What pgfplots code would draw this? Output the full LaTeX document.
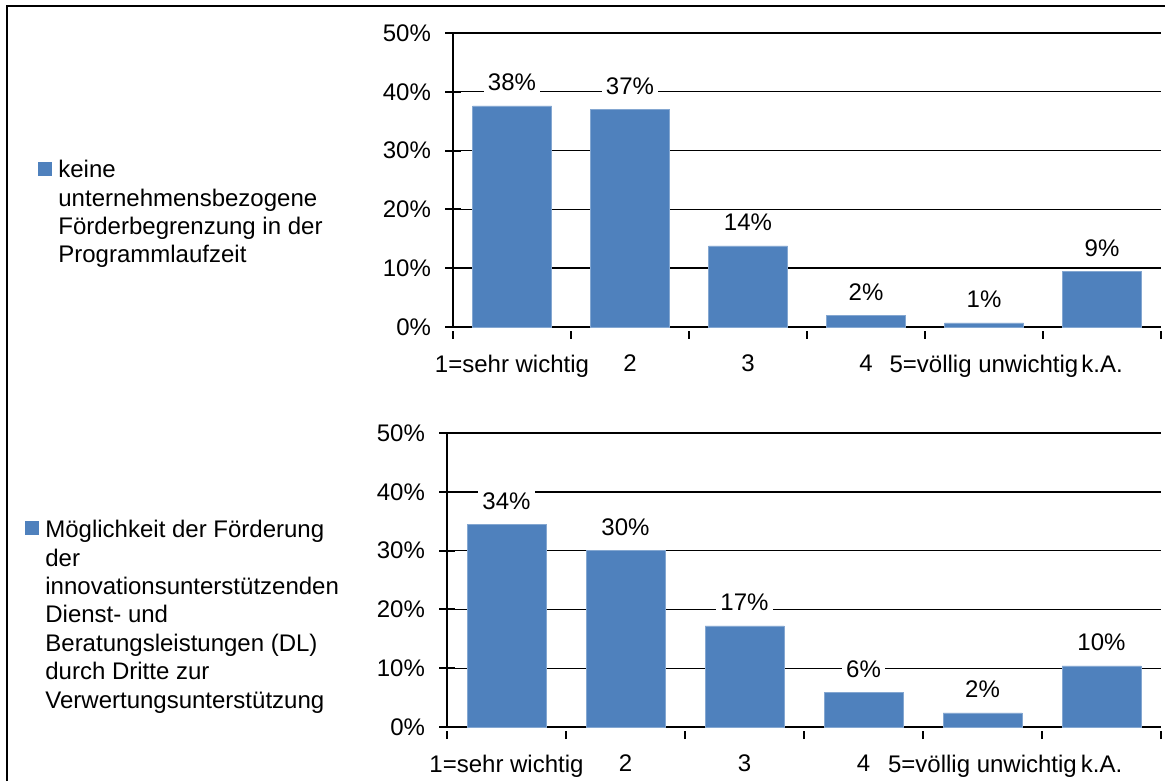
\documentclass[border=0pt]{standalone}
\usepackage{fontspec}
\setmainfont{Liberation Sans}
\usepackage{pgfplots}
\pgfplotsset{compat=1.18}

\definecolor{barblue}{RGB}{79,129,189}
\newcommand{\lfont}{\fontsize{12}{14.2}\selectfont}

\pgfplotsset{
  bewertung/.style={
    scale only axis,
    anchor=south west,
    height=147pt,
    xmin=-0.5, xmax=5.5,
    ymin=0, ymax=50,
    enlargelimits=false,
    clip=false,
    axis x line=bottom,
    axis y line=left,
    axis line style={-, line width=1pt, black},
    ymajorgrids,
    grid style={black, line width=0.7pt},
    ytick={0,10,20,30,40,50},
    yticklabels={0\%,10\%,20\%,30\%,40\%,50\%},
    xtick={0,1,2,3,4,5},
    xticklabels={1=sehr wichtig,2,3,4,5=völlig unwichtig,k.A.},
    minor xtick={-0.5,0.5,1.5,2.5,3.5,4.5,5.5},
    tick align=center,
    major tick length=8pt,
    minor tick length=4pt,
    major x tick style={draw=none},
    major y tick style={black, line width=1pt},
    minor x tick style={black, line width=1pt, yshift=-2pt},
    tick label style={font=\lfont},
    yticklabel style={xshift=-3.5pt},
    xticklabel style={yshift=-2.5pt},
    /pgf/number format/assume math mode=true,
    ybar,
    bar width=39.5pt,
    nodes near coords={\pgfmathprintnumber[fixed,precision=0,assume math mode=true]{\pgfplotspointmeta}\%},
    every node near coord/.append style={font=\lfont, anchor=base, yshift=7.5pt,
      fill=white, inner sep=2pt, text=black},
  }
}

\begin{document}
\begin{tikzpicture}[font=\lfont]
\useasboundingbox (0,0) rectangle (582.5pt,390.5pt);
% Rahmen
\draw[line width=1pt] (3.5pt,0) -- (3.5pt,387.5pt) -- (582.5pt,387.5pt);

% oben
\begin{axis}[bewertung, at={(226.5pt,227pt)}, width=354pt]
\addplot[fill=barblue, draw=barblue!70!white, line width=0.3pt] coordinates {
  (0,37.6) (1,37.0) (2,13.8) (3,2.0) (4,0.7) (5,9.4)
};
\end{axis}

% unten
\begin{axis}[bewertung, at={(223.5pt,27pt)}, width=357pt]
\addplot[fill=barblue, draw=barblue!70!white, line width=0.3pt] coordinates {
  (0,34.4) (1,30.0) (2,17.2) (3,5.9) (4,2.4) (5,10.4)
};
\end{axis}

% Legenden
\fill[barblue] (19pt,302.5pt) rectangle (26pt,309.5pt);
\node[anchor=north west, align=left, inner sep=0pt, font=\lfont] at (29pt,310.5pt)
  {keine\\unternehmensbezogene\\Förderbegrenzung in der\\Programmlaufzeit};

\fill[barblue] (12.5pt,123pt) rectangle (19.5pt,130pt);
\node[anchor=north west, align=left, inner sep=0pt, font=\lfont] at (22.5pt,130.5pt)
  {Möglichkeit der Förderung\\der\\innovationsunterstützenden\\Dienst- und\\Beratungsleistungen (DL)\\durch Dritte zur\\Verwertungsunterstützung};
\end{tikzpicture}
\end{document}
